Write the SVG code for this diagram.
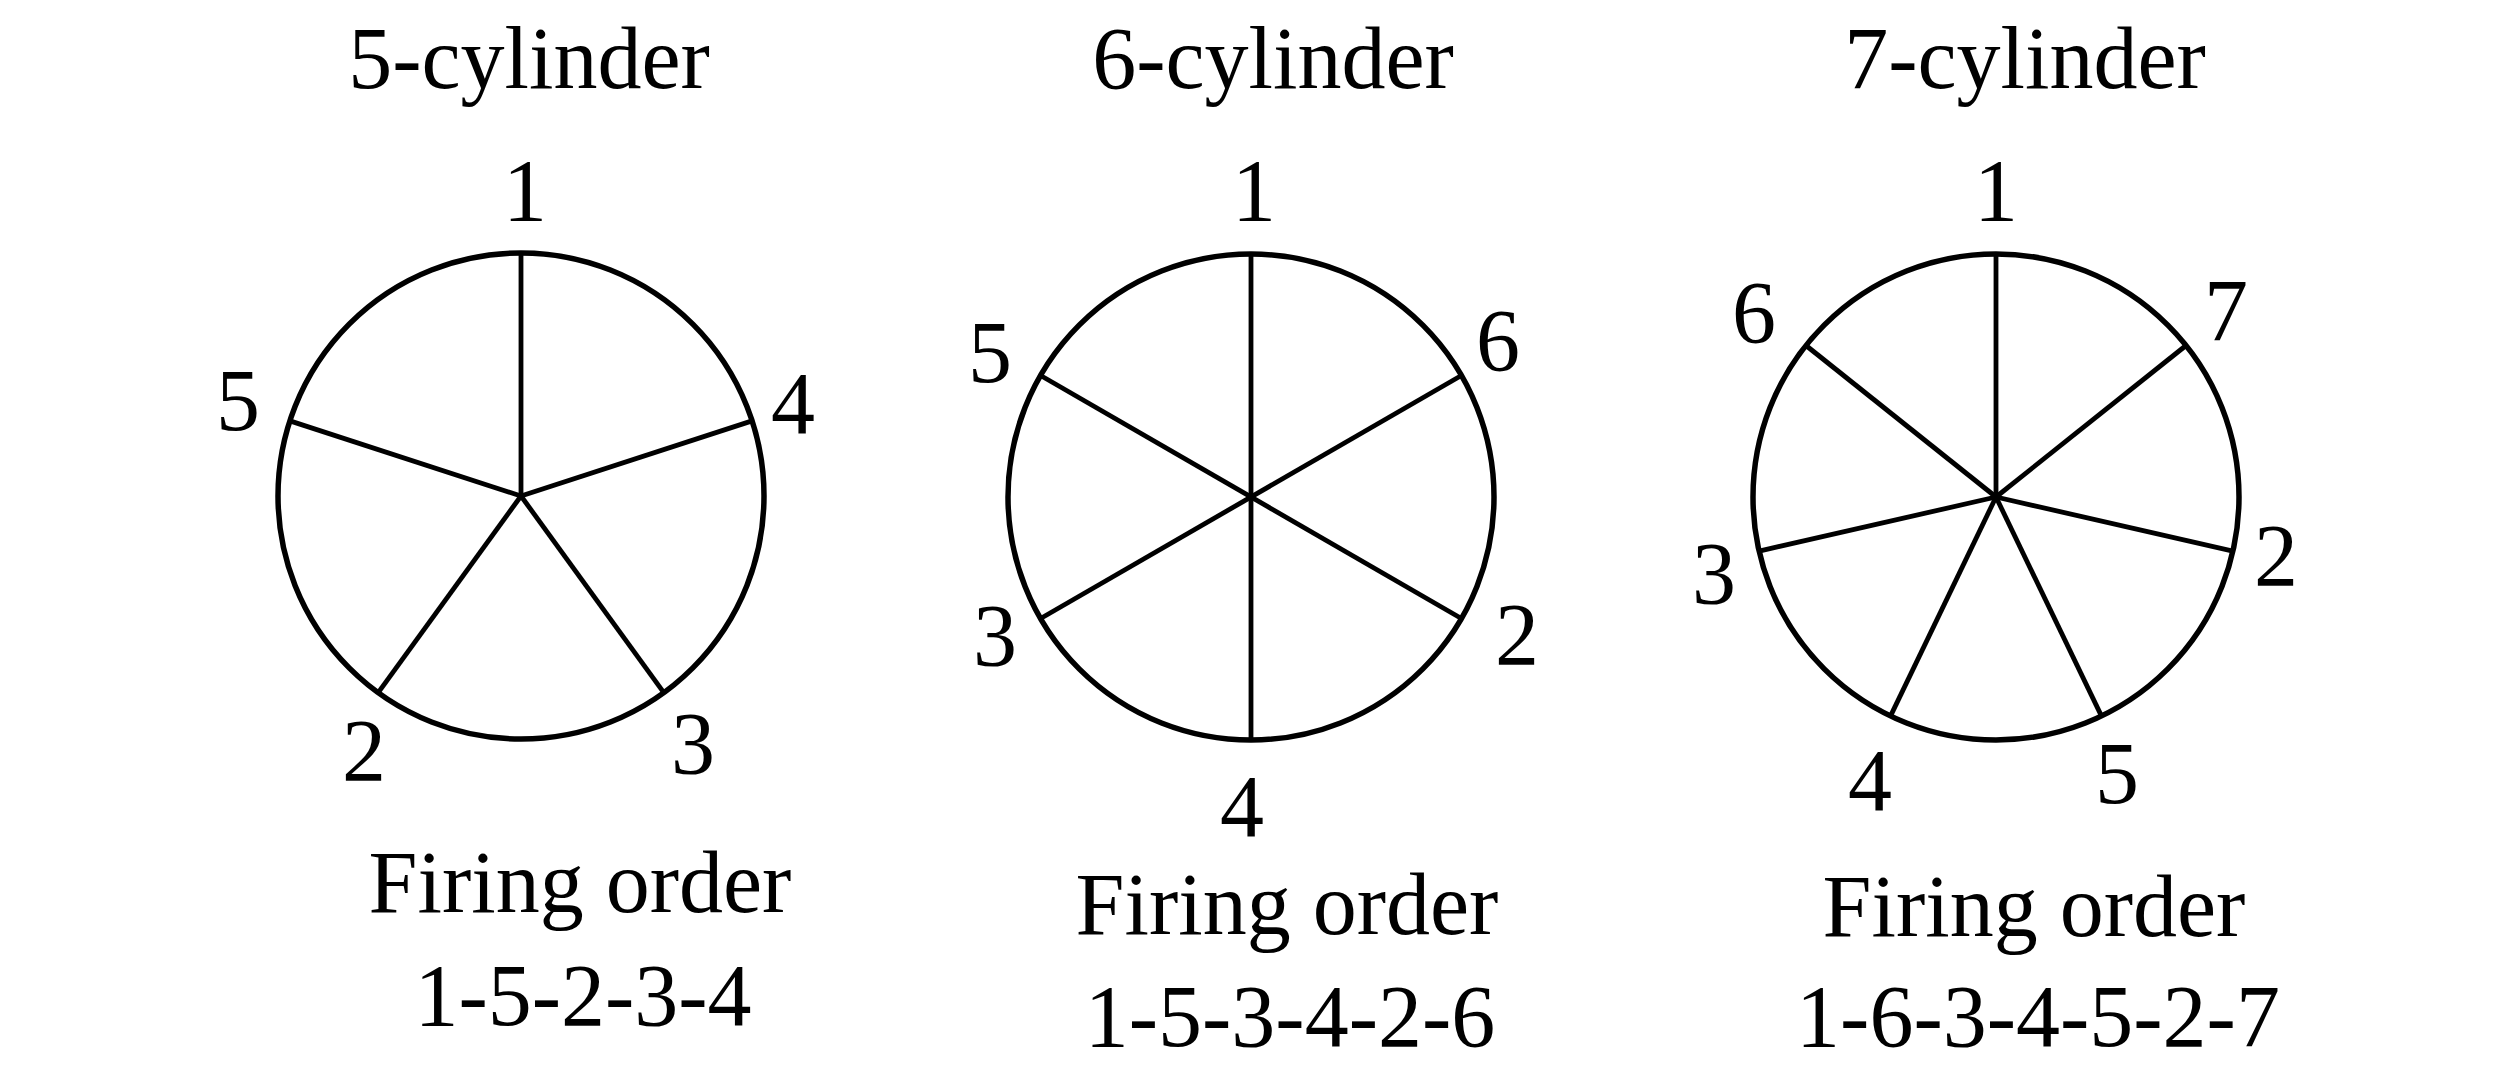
<svg xmlns="http://www.w3.org/2000/svg" width="2520" height="1071" viewBox="0 0 2520 1071">
<style>
text{font-family:"Liberation Serif","Times New Roman",serif;font-size:88px;fill:#000;text-anchor:middle}
.ring{fill:none;stroke:#000;stroke-width:5.5}
.spoke{stroke:#000;stroke-width:4.8;stroke-linecap:butt}
</style>
<rect width="2520" height="1071" fill="#fff"/>
<g id="five-cylinder">
<text x="529" y="88">5-cylinder</text>
<circle class="ring" cx="521" cy="496" r="243"/>
<g class="spoke">
<line x1="521" y1="496" x2="521" y2="253"/>
<line x1="521" y1="496" x2="752.1" y2="420.9"/>
<line x1="521" y1="496" x2="663.8" y2="692.6"/>
<line x1="521" y1="496" x2="378.2" y2="692.6"/>
<line x1="521" y1="496" x2="289.9" y2="420.9"/>
</g>
<text x="525" y="220">1</text>
<text x="793" y="433">4</text>
<text x="693" y="773">3</text>
<text x="364" y="780">2</text>
<text x="238" y="430">5</text>
<text x="580" y="912">Firing order</text>
<text x="583" y="1025">1-5-2-3-4</text>
</g>
<g id="six-cylinder">
<text x="1273" y="88">6-cylinder</text>
<circle class="ring" cx="1251" cy="497" r="243"/>
<g class="spoke">
<line x1="1251" y1="254" x2="1251" y2="740"/>
<line x1="1461.4" y1="375.5" x2="1040.6" y2="618.5"/>
<line x1="1040.6" y1="375.5" x2="1461.4" y2="618.5"/>
</g>
<text x="1254" y="220">1</text>
<text x="1498" y="370">6</text>
<text x="1517" y="664">2</text>
<text x="1242" y="836">4</text>
<text x="995" y="665">3</text>
<text x="990" y="382">5</text>
<text x="1287" y="934">Firing order</text>
<text x="1290" y="1046">1-5-3-4-2-6</text>
</g>
<g id="seven-cylinder">
<text x="2025" y="88">7-cylinder</text>
<circle class="ring" cx="1996" cy="497" r="243"/>
<g class="spoke">
<line x1="1996" y1="497" x2="1996" y2="254"/>
<line x1="1996" y1="497" x2="2186" y2="345.5"/>
<line x1="1996" y1="497" x2="2232.9" y2="551.1"/>
<line x1="1996" y1="497" x2="2101.4" y2="715.9"/>
<line x1="1996" y1="497" x2="1890.6" y2="715.9"/>
<line x1="1996" y1="497" x2="1759.1" y2="551.1"/>
<line x1="1996" y1="497" x2="1806" y2="345.5"/>
</g>
<text x="1996" y="220">1</text>
<text x="2226" y="340">7</text>
<text x="2276" y="585">2</text>
<text x="2117" y="803">5</text>
<text x="1870" y="810">4</text>
<text x="1714" y="603">3</text>
<text x="1754" y="342">6</text>
<text x="2034" y="936">Firing order</text>
<text x="2038" y="1046">1-6-3-4-5-2-7</text>
</g>
</svg>
